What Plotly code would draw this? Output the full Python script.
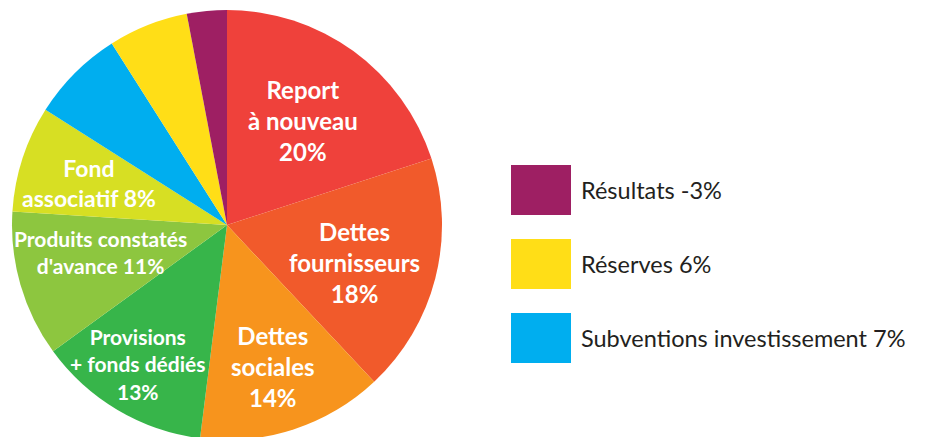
import math
import plotly.graph_objects as go

# ---- data ----
labels = [
    "Report à nouveau",
    "Dettes fournisseurs",
    "Dettes sociales",
    "Provisions + fonds dédiés",
    "Produits constatés d'avance",
    "Fond associatif",
    "Subventions investissement",
    "Réserves",
    "Résultats",
]
values = [20, 18, 14, 13, 11, 8, 7, 6, 3]
pct_text = ["20%", "18%", "14%", "13%", "11%", "8%", "7%", "6%", "-3%"]
slice_text = [
    "Report<br>à nouveau<br>20%",
    "Dettes<br>fournisseurs<br>18%",
    "Dettes<br>sociales<br>14%",
    "Provisions<br>+ fonds dédiés<br>13%",
    "Produits constatés<br>d'avance 11%",
    "Fond<br>associatif 8%",
    "",
    "",
    "",
]
legend_order = [8, 7, 6]  # slices listed in the side legend

# ---- styles ----
colors = ["#EF413B", "#F15A2B", "#F7941D", "#37B54A", "#8DC63F",
          "#D7DF23", "#00AEEF", "#FFDE17", "#9E1F63"]
label_rfrac = [0.60, 0.62, 0.69, 0.77, 0.60, 0.67, 0, 0, 0]
label_dang = [0, 2, 0, 2, 4, -1, 0, 0, 0]
label_size = [24, 24, 24, 21, 21, 23, 0, 0, 0]

W, H = 925, 437
OFF = 8  # page offset of the plot div in the browser
cx, cy, R = 227, 225, 215  # on-screen pie geometry


def to_paper(px, py):
    return (px - OFF) / W, (H - (py - OFF)) / H


fig = go.Figure()
dx0, _ = to_paper(cx - R, 0)
dx1, _ = to_paper(cx + R, 0)
_, dy1 = to_paper(0, cy - R)
_, dy0 = to_paper(0, cy + R)
fig.add_trace(go.Pie(
    labels=labels,
    values=values,
    marker=dict(colors=colors, line=dict(width=0)),
    sort=False,
    direction="clockwise",
    rotation=0,
    textinfo="none",
    hovertemplate="%{label}<extra></extra>",
    domain=dict(x=[dx0, dx1], y=[dy0, dy1]),
    showlegend=False,
))

total = sum(values)
cum = 0
annotations = []
for i, v in enumerate(values):
    mid = (cum + v / 2) / total * 360 + label_dang[i]
    cum += v
    if not slice_text[i]:
        continue
    r = label_rfrac[i] * R
    x, y = to_paper(cx + r * math.sin(math.radians(mid)),
                    cy - r * math.cos(math.radians(mid)))
    annotations.append(dict(
        x=x, y=y, xref="paper", yref="paper", text=slice_text[i],
        showarrow=False, xanchor="center", yanchor="middle", align="center",
        font=dict(family="Lato", size=label_size[i], color="white",
                  weight="bold"),
    ))

shapes = []
row_top = [165, 239, 313]
for k, idx in enumerate(legend_order):
    x0, y0 = to_paper(511, row_top[k])
    x1, y1 = to_paper(571, row_top[k] + 50)
    shapes.append(dict(type="rect", xref="paper", yref="paper",
                       x0=x0, x1=x1, y0=y1, y1=y0,
                       fillcolor=colors[idx], line=dict(width=0)))
    tx, ty = to_paper(579, row_top[k] + 25)
    annotations.append(dict(
        x=tx, y=ty, xref="paper", yref="paper",
        text=f"{labels[idx]} {pct_text[idx]}",
        showarrow=False, xanchor="left", yanchor="middle",
        font=dict(family="Lato", size=23.5, color="#231F20"),
    ))

fig.update_layout(
    width=W, height=H,
    margin=dict(l=0, r=0, t=0, b=0),
    paper_bgcolor="white", plot_bgcolor="white",
    showlegend=False,
    annotations=annotations,
    shapes=shapes,
)

fig.write_html("out.html")
